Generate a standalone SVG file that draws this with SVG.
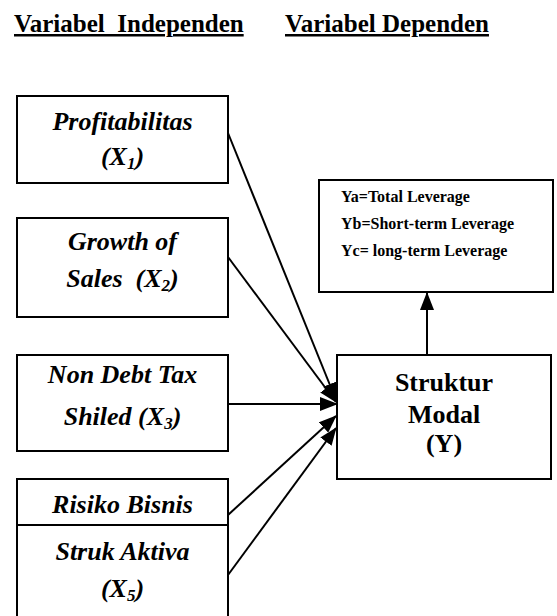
<svg xmlns="http://www.w3.org/2000/svg" width="557" height="616" viewBox="0 0 557 616" font-family="Liberation Serif, Times New Roman, serif">
<style>
.hdr{font-size:25px;font-weight:bold;text-decoration:underline}
.lbl{font-size:26px;font-weight:bold;font-style:italic;text-anchor:middle}
.y{font-size:26px;font-weight:bold;text-anchor:middle}
.sm{font-size:16px;font-weight:bold}
.sub{font-size:17px}
.box{fill:#fff;stroke:#000;stroke-width:2}
.conn line{stroke:#000;stroke-width:2}
</style>
<defs>
<marker id="ah" markerUnits="userSpaceOnUse" markerWidth="18" markerHeight="14" refX="17" refY="7" orient="auto">
<path d="M0,0 L18,7 L0,14 Z" fill="#000"/>
</marker>
</defs>
<rect width="557" height="616" fill="#fff"/>
<g id="headers">
<text class="hdr" x="14" y="32" xml:space="preserve">Variabel  Independen</text>
<text class="hdr" x="285" y="32">Variabel Dependen</text>
</g>
<g id="x1">
<rect class="box" x="17" y="96" width="211" height="87"/>
<text class="lbl" x="122.5" y="130">Profitabilitas</text>
<text class="lbl" x="122.5" y="165">(X<tspan class="sub" dy="4">1</tspan><tspan dy="-4">)</tspan></text>
</g>
<g id="x2">
<rect class="box" x="17" y="218" width="211" height="99"/>
<text class="lbl" x="122.5" y="250">Growth of</text>
<text class="lbl" x="122.5" y="287" xml:space="preserve">Sales  (X<tspan class="sub" dy="4">2</tspan><tspan dy="-4">)</tspan></text>
</g>
<g id="x3">
<rect class="box" x="17" y="355" width="211" height="96"/>
<text class="lbl" x="122.5" y="383">Non Debt Tax</text>
<text class="lbl" x="122.5" y="425">Shiled (X<tspan class="sub" dy="4">3</tspan><tspan dy="-4">)</tspan></text>
</g>
<g id="x4">
<rect class="box" x="17" y="479" width="211" height="160"/>
<line x1="17" y1="525" x2="228" y2="525" stroke="#000" stroke-width="2"/>
<text class="lbl" x="122.5" y="513">Risiko Bisnis</text>
<text class="lbl" x="122.5" y="560">Struk Aktiva</text>
<text class="lbl" x="122.5" y="597">(X<tspan class="sub" dy="4">5</tspan><tspan dy="-4">)</tspan></text>
</g>
<g id="yl">
<rect class="box" x="319" y="180" width="234" height="112"/>
<text class="sm" x="341" y="202">Ya=Total Leverage</text>
<text class="sm" x="341" y="229">Yb=Short-term Leverage</text>
<text class="sm" x="341" y="256">Yc= long-term Leverage</text>
</g>
<g id="y">
<rect class="box" x="337" y="355" width="214" height="124"/>
<text class="y" x="444" y="391">Struktur</text>
<text class="y" x="444" y="423">Modal</text>
<text class="y" x="444" y="452">(Y)</text>
</g>
<g class="conn">
<line x1="228" y1="133" x2="336" y2="400" marker-end="url(#ah)"/>
<line x1="228" y1="257" x2="336" y2="402" marker-end="url(#ah)"/>
<line x1="228" y1="404" x2="337" y2="404" marker-end="url(#ah)"/>
<line x1="228" y1="515" x2="336" y2="416" marker-end="url(#ah)"/>
<line x1="228" y1="575" x2="336" y2="428" marker-end="url(#ah)"/>
<line x1="427" y1="355" x2="427" y2="293" marker-end="url(#ah)"/>
</g>
</svg>
